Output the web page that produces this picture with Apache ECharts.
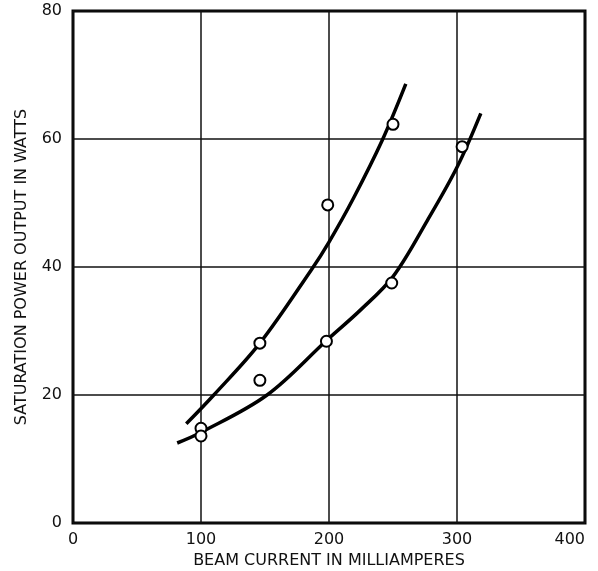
<!DOCTYPE html>
<html>
<head>
<meta charset="utf-8">
<script src="https://cdn.jsdelivr.net/npm/echarts@6/dist/echarts.min.js"></script>
<style>
  html, body { margin: 0; padding: 0; background: #fff; }
  #chart { width: 598px; height: 571px; }
</style>
</head>
<body>
<div id="chart"></div>
<script>
  // measured points (beam current mA, power W)
  let pointsX = [100, 100, 146, 146, 199, 198, 250, 249, 304]
  let pointsY = [14.8, 13.6, 28.1, 22.3, 49.7, 28.4, 62.3, 37.5, 58.8]
  // hand-drawn curves
  let upperX = [88.5, 110, 146, 186, 200, 219, 241.6, 260]
  let upperY = [15.5, 20, 28.1, 39.5, 43.9, 50.7, 59.8, 68.6]
  let lowerX = [81.4, 99.4, 151.6, 198.5, 224.7, 250, 276.9, 300.3, 318.6]
  let lowerY = [12.5, 14.1, 20, 28.6, 33.3, 38.5, 47.3, 55.7, 64]
  let xTicks = [0, 100, 200, 300, 400]
  let yTicks = [0, 20, 40, 60, 80]

  const pair = (xs, ys) => xs.map((x, i) => [x, ys[i]])
  const font = 'DejaVu Sans'

  const option = {
    backgroundColor: '#fff',
    animation: false,
    grid: {
      left: 73,
      right: 13,
      top: 11,
      bottom: 48,
      outerBoundsMode: 'none',
      show: true,
      borderColor: '#000',
      borderWidth: 3
    },
    xAxis: {
      type: 'value',
      min: xTicks[0],
      max: xTicks[xTicks.length - 1],
      interval: 100,
      name: 'BEAM CURRENT IN MILLIAMPERES',
      nameLocation: 'middle',
      nameGap: 28,
      nameTextStyle: { fontFamily: font, fontSize: 16, color: '#111' },
      axisLine: { show: false },
      axisTick: { show: false },
      axisLabel: { fontFamily: font, fontSize: 16, color: '#111', margin: 9, alignMaxLabel: 'right' },
      splitLine: { show: true, lineStyle: { color: '#111', width: 1.5 } }
    },
    yAxis: {
      type: 'value',
      min: yTicks[0],
      max: yTicks[yTicks.length - 1],
      interval: 20,
      name: 'SATURATION POWER OUTPUT IN WATTS',
      nameLocation: 'middle',
      nameGap: 43,
      nameRotate: 90,
      nameTextStyle: { fontFamily: font, fontSize: 16, color: '#111' },
      axisLine: { show: false },
      axisTick: { show: false },
      axisLabel: { fontFamily: font, fontSize: 16, color: '#111', margin: 11 },
      splitLine: { show: true, lineStyle: { color: '#111', width: 1.5 } }
    },
    series: [
      {
        name: 'upper',
        type: 'line',
        smooth: 0.35,
        symbol: 'none',
        lineStyle: { color: '#000', width: 3.5 },
        data: pair(upperX, upperY)
      },
      {
        name: 'lower',
        type: 'line',
        smooth: 0.35,
        symbol: 'none',
        lineStyle: { color: '#000', width: 3.5 },
        data: pair(lowerX, lowerY)
      },
      {
        name: 'measured',
        type: 'scatter',
        symbol: 'circle',
        symbolSize: 11,
        itemStyle: { color: '#fff', borderColor: '#000', borderWidth: 2, opacity: 1 },
        z: 5,
        data: pair(pointsX, pointsY)
      }
    ]
  }

  const chart = echarts.init(document.getElementById('chart'), null, { renderer: 'canvas' })
  chart.setOption(option)
</script>
</body>
</html>
